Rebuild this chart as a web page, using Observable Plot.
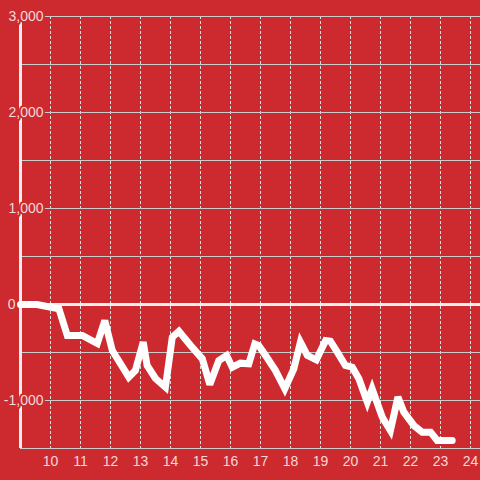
<!DOCTYPE html>
<html><head><meta charset="utf-8">
<script src="https://cdn.jsdelivr.net/npm/d3@7"></script>
<script src="https://cdn.jsdelivr.net/npm/@observablehq/plot@0.6"></script>
<style>html,body{margin:0;padding:0;background:#cd2a2f;} svg{display:block;}</style>
</head><body><div id="chart"></div>
<script>
const xValues = [9, 9.55, 10.28, 10.56, 11.06, 11.56, 11.81, 12.06, 12.61, 12.83, 13.09, 13.22, 13.5, 13.83, 14.06, 14.28, 14.67, 15.06, 15.31, 15.61, 15.87, 16.06, 16.33, 16.61, 16.81, 16.94, 17.17, 17.5, 17.81, 18.11, 18.33, 18.56, 18.86, 19.17, 19.33, 19.56, 19.83, 20.06, 20.28, 20.56, 20.72, 21.06, 21.33, 21.58, 21.78, 22.11, 22.39, 22.67, 22.89, 23.39];
const yValues = [0, 0, -45, -323, -323, -406, -167, -479, -757, -688, -392, -635, -771, -861, -340, -278, -427, -566, -833, -583, -531, -653, -611, -618, -410, -427, -531, -688, -878, -670, -392, -531, -576, -375, -382, -497, -635, -653, -774, -1017, -878, -1174, -1313, -965, -1122, -1260, -1330, -1330, -1417, -1417];
const xTicks = [10, 11, 12, 13, 14, 15, 16, 17, 18, 19, 20, 21, 22, 23, 24];
const yLabelTicks = [-1000, 1000, 2000, 3000];
const yZeroTick = [0];
const yGridTicks = [-1500, -1000, -500, 500, 1000, 1500, 2000, 2500, 3000];

const bg = "#cd2a2f";
const labelColor = "#f4d8d8";
const fmt = d => d3.format(",")(d).replace("\u2212", "-");
const data = xValues.map((x, i) => ({x, y: yValues[i]}));

const chart = Plot.plot({
  width: 480, height: 480,
  marginTop: 16, marginBottom: 32, marginLeft: 20, marginRight: 0,
  style: {background: bg, fontFamily: "'Liberation Sans', Arial, sans-serif", fontSize: "14px"},
  x: {domain: [9, 24.333], axis: null},
  y: {domain: [-1500, 3000], axis: null},
  marks: [
    Plot.ruleX(xTicks, {stroke: "#dddddd", strokeWidth: 1, strokeDasharray: "3,2"}),
    Plot.ruleY(yGridTicks, {stroke: "#cccccc", strokeWidth: 1}),
    Plot.ruleY([0], {stroke: "#eeeeee", strokeWidth: 3}),
    Plot.ruleX([9], {stroke: "#eeeeee", strokeWidth: 3}),
    Plot.line(data, {x: "x", y: "y", stroke: "#ffffff", strokeWidth: 7, strokeLinejoin: "miter", strokeMiterlimit: 3}),
    Plot.text(yLabelTicks, {x: () => 9, y: d => d, text: fmt, textAnchor: "end", dx: 23, fill: labelColor, stroke: bg, strokeWidth: 4, fontSize: 14}),
    Plot.text(yZeroTick, {x: () => 9, y: d => d, text: fmt, textAnchor: "end", dx: -5, fill: labelColor, fontSize: 14}),
    Plot.text(xTicks, {x: d => d, y: () => -1500, text: d => String(d), dy: 13, fill: labelColor, fontSize: 14})
  ]
});
document.getElementById("chart").appendChild(chart);
</script>
</body></html>
